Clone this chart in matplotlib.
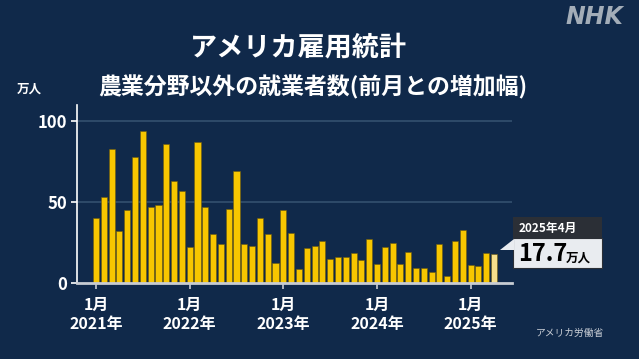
import matplotlib
matplotlib.use("Agg")
from matplotlib import pyplot as plt
from matplotlib.patches import Rectangle, Polygon
import numpy as np

plt.rcParams["font.family"] = ["Noto Sans CJK JP", "DejaVu Sans"]

# monthly nonfarm payroll change (万人), Jan 2021 - Apr 2025
values = [
    40, 53, 83, 32, 45, 78, 94, 47, 48, 86, 63, 57,
    22, 87, 47, 30, 24, 46, 69.5, 24, 23, 40, 30, 12.5,
    45, 31, 8.5, 21.5, 23, 26, 15, 16, 16, 18.5, 14, 27,
    12, 22, 25, 12, 19, 9, 9, 7, 24, 4.5, 26, 32.5,
    11, 10.5, 18.5, 17.7,
]
jan_labels = ["1月\n2021年", "1月\n2022年", "1月\n2023年", "1月\n2024年", "1月\n2025年"]
y_ticks = [0, 50, 100]
latest_label = "2025年4月"

BG = "#10294a"
YELLOW = "#f7c600"
LATEST = "#f6df8c"
W, H = 639, 359

fig = plt.figure(figsize=(W / 100, H / 100), dpi=100, facecolor=BG)
ax = fig.add_axes([77 / W, 1 - 283 / H, 435 / W, 178 / H], facecolor=BG)

x = np.arange(len(values))
colors = [YELLOW] * (len(values) - 1) + [LATEST]
ax.bar(x, values, width=0.78, color=colors, edgecolor="#6b5a10", linewidth=0.4, zorder=3)

ax.set_xlim(-2.44, 53.3)
ax.set_ylim(0, 110)
ax.set_yticks(y_ticks)
ax.set_yticklabels([str(v) for v in y_ticks], color="white", fontsize=12, fontweight="bold")
for v in y_ticks[1:]:
    ax.axhline(v, color="#34506f", lw=1.2, zorder=1)

ax.set_xticks(x[::12])
ax.set_xticklabels(jan_labels, color="white", fontsize=11.5, fontweight="bold", linespacing=1.25)
ax.tick_params(axis="x", length=4, width=1.2, color="#c8ccd2", pad=6)
ax.tick_params(axis="y", length=4, width=1.2, color="white", pad=3)

for s in ["top", "right"]:
    ax.spines[s].set_visible(False)
ax.spines["left"].set_color("white")
ax.spines["left"].set_linewidth(1.2)
ax.spines["bottom"].set_color("#c8ccd2")
ax.spines["bottom"].set_linewidth(2)
ax.spines["bottom"].set_zorder(4)

# overlay in pixel coordinates for titles and callout
ov = fig.add_axes([0, 0, 1, 1], facecolor="none")
ov.set_xlim(0, W)
ov.set_ylim(H, 0)
ov.axis("off")

ov.text(298, 47, "アメリカ雇用統計", color="white", fontsize=19.5, fontweight="bold",
        ha="center", va="center")
ov.text(313, 87, "農業分野以外の就業者数(前月との増加幅)", color="white", fontsize=16.5,
        fontweight="bold", ha="center", va="center")
ov.text(29, 89, "万人", color="white", fontsize=9, fontweight="bold", ha="center", va="center")
ov.text(594, 17, "NHK", color="#a3adb8", fontsize=17, fontweight="bold", fontstyle="italic",
        ha="center", va="center", family="DejaVu Sans")
ov.text(570, 333, "アメリカ労働省", color="#c9ced6", fontsize=7, ha="center", va="center")

# callout for latest month
ov.add_patch(Rectangle((513, 217), 89, 21, facecolor="#2b2f36", edgecolor="none"))
ov.add_patch(Rectangle((513, 238), 89, 30, facecolor="#e9ecf0", edgecolor="#2b2f36", lw=0.8))
ov.add_patch(Polygon([[500, 250], [514, 239], [514, 250]], closed=True,
                     facecolor="#e9ecf0", edgecolor="none"))
ov.text(519, 228, latest_label, color="white", fontsize=8.5, fontweight="bold",
        ha="left", va="center")
ov.text(518, 254, f"{values[-1]:.1f}", color="black", fontsize=17, fontweight="bold",
        ha="left", va="center")
ov.text(566, 258, "万人", color="black", fontsize=9, fontweight="bold", ha="left", va="center")

fig.savefig("out.png", dpi=100, facecolor=BG)
